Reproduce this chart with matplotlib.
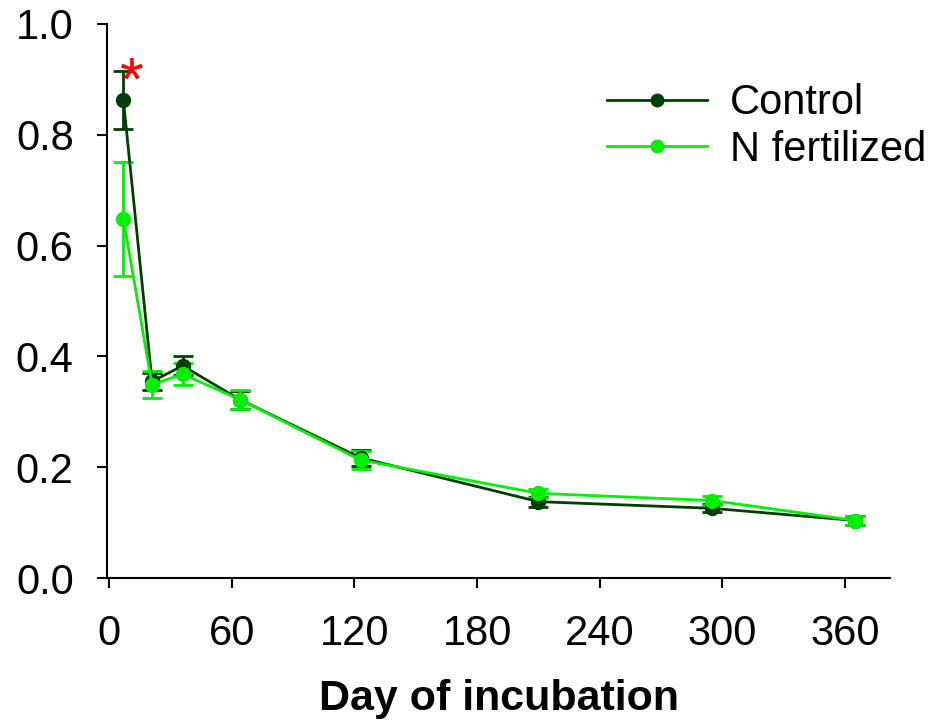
import matplotlib.pyplot as plt
from matplotlib.lines import Line2D

# days of incubation and fraction values
days = [7, 21, 36, 64, 123, 210, 295, 365]
control = [0.862, 0.355, 0.383, 0.322, 0.217, 0.138, 0.126, 0.104]
control_err = [0.052, 0.015, 0.017, 0.016, 0.014, 0.009, 0.007, 0.008]
nfert = [0.648, 0.349, 0.368, 0.322, 0.213, 0.153, 0.140, 0.104]
nfert_err = [0.103, 0.024, 0.020, 0.017, 0.017, 0.008, 0.008, 0.008]

xticks = [0, 60, 120, 180, 240, 300, 360]
yticks = [0.0, 0.2, 0.4, 0.6, 0.8, 1.0]

DARK = "#003f00"
LIGHT = "#00f000"

plt.rcParams["font.family"] = ["Liberation Sans", "DejaVu Sans"]

fig = plt.figure(figsize=(9.31, 7.2), dpi=100)
ax = fig.add_axes([0.115, 0.197, 0.841, 0.770])

ax.errorbar(days, control, yerr=control_err, color=DARK, marker="o",
            markersize=10, linewidth=2, elinewidth=2, capsize=7,
            capthick=2)
ax.errorbar(days, nfert, yerr=nfert_err, color=LIGHT, marker="o",
            markersize=10, linewidth=2, elinewidth=2, capsize=7,
            capthick=2)

# significance mark on the first sampling day
ax.text(days[0] - 1.5, control[0] + control_err[0] - 0.023, "*", color="red",
        fontsize=44, ha="left", va="center")

ax.set_xlim(-1, 382)
ax.set_ylim(0, 1.0)
ax.set_xticks(xticks)
ax.set_yticks(yticks)
ax.set_yticklabels([f"{v:.1f}" for v in yticks])
ax.tick_params(labelsize=30, direction="out", length=7, width=1.5)
ax.tick_params(axis="y", pad=17)
ax.tick_params(axis="x", pad=19)

for side in ["top", "right"]:
    ax.spines[side].set_visible(False)
for side in ["left", "bottom"]:
    ax.spines[side].set_linewidth(1.5)

ax.set_xlabel("Day of incubation", fontsize=31, fontweight="bold", labelpad=18)

handles = [
    Line2D([], [], color=DARK, marker="o", markersize=9, linewidth=2),
    Line2D([], [], color=LIGHT, marker="o", markersize=9, linewidth=2),
]
ax.legend(handles, ["Control", "N fertilized"], loc="upper right",
          bbox_to_anchor=(1.094, 0.96), frameon=False, fontsize=30,
          handlelength=2.4, handletextpad=0.55, labelspacing=0.15)

fig.savefig("out.png")
